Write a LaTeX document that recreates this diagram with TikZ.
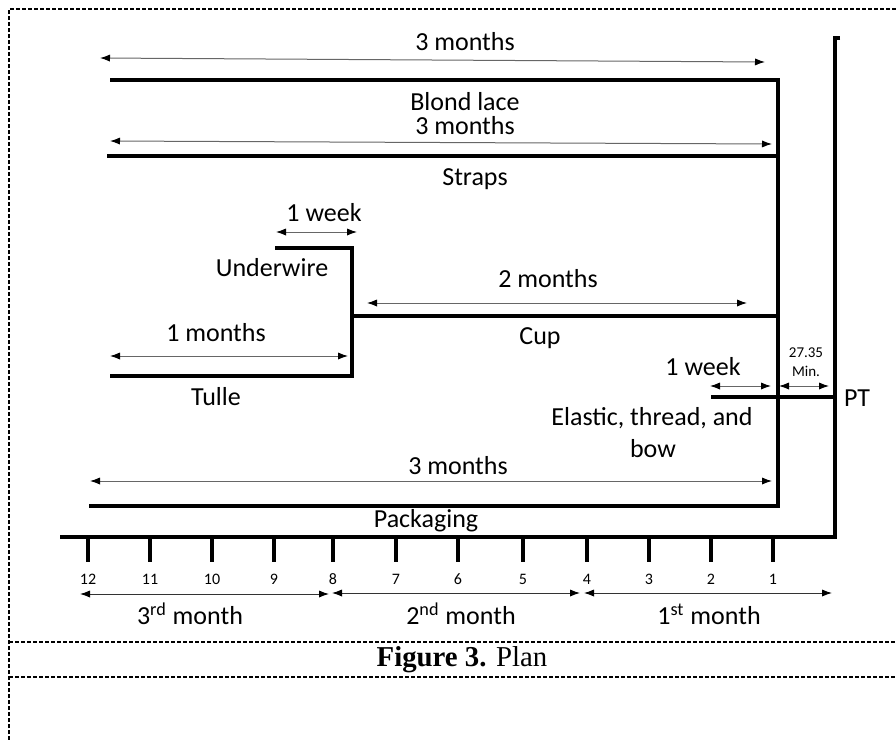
\documentclass[tikz,border=0pt]{standalone}
\usepackage{fontspec}
\setmainfont[Numbers=Lining]{Carlito}
\newfontfamily\timesf{Liberation Serif}
\usetikzlibrary{arrows.meta}
\begin{document}
\begin{tikzpicture}[x=0.5pt,y=-0.5pt,
  bar/.style={line width=1.6pt, line join=miter},
  dim/.style={line width=0.5pt, draw=black!60, {Latex[black,length=5pt,width=3.6pt]}-{Latex[black,length=5pt,width=3.6pt]}},
  lbl/.style={font=\fontsize{13}{14}\selectfont, inner sep=0pt},
  small/.style={font=\fontsize{8}{9}\selectfont, inner sep=0pt, text height=1.45ex, text depth=0pt},
  tiny/.style={font=\fontsize{7.5}{8}\selectfont, inner sep=0pt},
  frame/.style={line width=0.6pt, dash pattern=on 2pt off 1pt},
  tick/.style={line width=1.6pt}]
\useasboundingbox (0,0) rectangle (896,740);
% frame
\draw[frame] (9,740) -- (9,9) -- (896,9);
\draw[frame] (9,642) -- (896,642);
\draw[frame] (9,677) -- (896,677);
% coordinates
\coordinate (bl1) at (110,80);
\coordinate (bl2) at (778,80);
\coordinate (pk2) at (778,506);
\coordinate (pk1) at (89,506);
\coordinate (st1) at (107,156);
\coordinate (st2) at (778,156);
\coordinate (uw1) at (275,248);
\coordinate (uw2) at (352,248);
\coordinate (tu2) at (352,376);
\coordinate (tu1) at (110,376);
\coordinate (cu1) at (352,316);
\coordinate (cu2) at (778,316);
\coordinate (el1) at (711,397);
\coordinate (el2) at (835,397);
\coordinate (pt0) at (840,38);
\coordinate (pt1) at (835,38);
\coordinate (pt2) at (835,537);
\coordinate (ax1) at (60,537);
% bars
\draw[bar] (bl1) -- (bl2) -- (pk2) -- (pk1);
\draw[bar] (st1) -- (st2);
\draw[bar] (uw1) -- (uw2) -- (tu2) -- (tu1);
\draw[bar] (cu1) -- (cu2);
\draw[bar] (el1) -- (el2);
\draw[bar] (pt0) -- (pt1) -- (pt2) -- (ax1);
% dimension arrows
\coordinate (a1l) at (100,58); \coordinate (a1r) at (765,62);
\coordinate (a2l) at (110,141); \coordinate (a2r) at (772,144);
\coordinate (a3l) at (276,232); \coordinate (a3r) at (357,232);
\coordinate (a4l) at (367,303); \coordinate (a4r) at (747,303);
\coordinate (a5l) at (110,356); \coordinate (a5r) at (348,356);
\coordinate (a6l) at (710,386); \coordinate (a6r) at (771,386);
\coordinate (a7l) at (779,386); \coordinate (a7r) at (829,386);
\coordinate (a8l) at (90,481); \coordinate (a8r) at (772,481);
\draw[dim] (a1l) -- (a1r);
\draw[dim] (a2l) -- (a2r);
\draw[dim] (a3l) -- (a3r);
\draw[dim] (a4l) -- (a4r);
\draw[dim] (a5l) -- (a5r);
\draw[dim] (a6l) -- (a6r);
\draw[dim] (a7l) -- (a7r);
\draw[dim] (a8l) -- (a8r);
% labels
\node[lbl] (t1) at (465,42) {3 months};
\node[lbl] (t2) at (465,102) {Blond lace};
\node[lbl] (t3) at (465,126) {3 months};
\node[lbl] (t4) at (475,179) {Straps};
\node[lbl] (t5) at (324,213) {1 week};
\node[lbl] (t6) at (272,268) {Underwire};
\node[lbl] (t7) at (548,279) {2 months};
\node[lbl] (t8) at (540,338) {Cup};
\node[lbl] (t9) at (216,333) {1 months};
\node[lbl] (t10) at (216,397) {Tulle};
\node[lbl] (t11) at (703,367) {1 week};
\node[tiny] (t12) at (806,353) {27.35};
\node[tiny] (t13) at (806,371) {Min.};
\node[lbl] (t14) at (857,398) {PT};
\node[lbl] (t15) at (652,418) {Elastic, thread, and};
\node[lbl] (t16) at (653,449) {bow};
\node[lbl] (t17) at (458,466) {3 months};
\node[lbl] (t18) at (426,521) {Packaging};
% axis ticks and numbers
\foreach \n/\x in {12/88,11/150,10/212,9/274,8/333,7/396,6/458,5/523,4/587,3/649,2/711,1/773}{
  \draw[tick] (\x,537) -- (\x,562);
  \node[small] (n\n) at (\x,578) {\n};
}
% month arrows
\coordinate (m3l) at (80,594); \coordinate (m3r) at (329,594);
\coordinate (m2l) at (332,593); \coordinate (m2r) at (580,593);
\coordinate (m1l) at (584,593); \coordinate (m1r) at (832,593);
\draw[dim,draw=black!80] (m3l) -- (m3r);
\draw[dim,draw=black!80] (m2l) -- (m2r);
\draw[dim,draw=black!80] (m1l) -- (m1r);
\node[lbl] (mm3) at (190,614) {3\textsuperscript{rd} month};
\node[lbl] (mm2) at (461,614) {2\textsuperscript{nd} month};
\node[lbl] (mm1) at (709,614) {1\textsuperscript{st} month};
% caption
\node[inner sep=0pt, font=\timesf\fontsize{14.4}{16}\selectfont] (cap) at (462,660) {\textbf{Figure 3.} Plan};
\end{tikzpicture}
\end{document}
